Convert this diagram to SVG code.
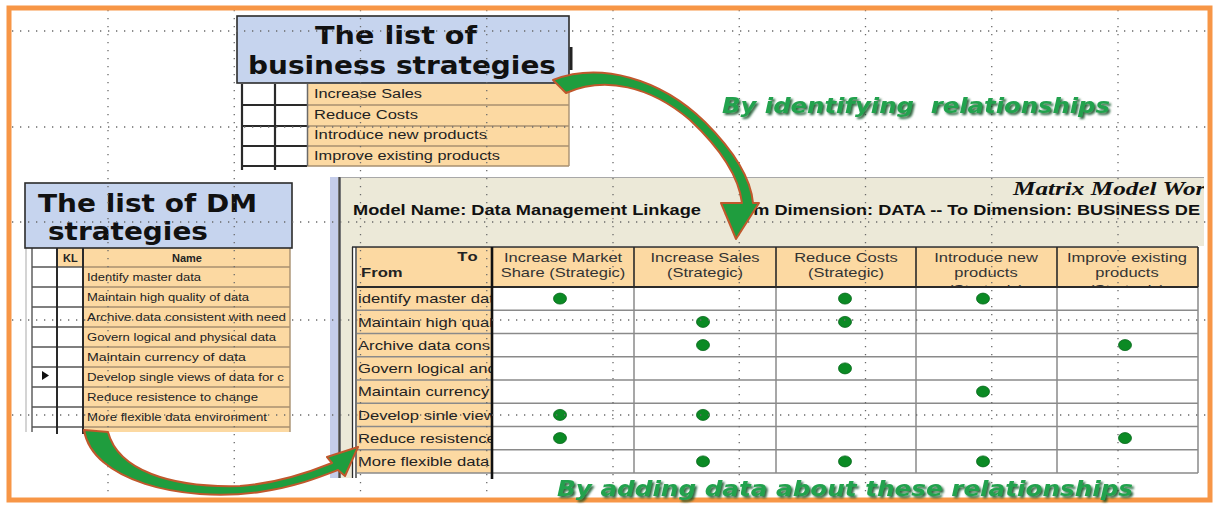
<svg xmlns="http://www.w3.org/2000/svg" width="1216" height="507" viewBox="0 0 1216 507">
<style>
.title{font-family:"DejaVu Sans",Verdana,sans-serif;font-weight:bold;font-size:24px;fill:#111}
.cell{font-family:"Liberation Sans",Arial,sans-serif;fill:#222}
.bs{font-size:12.5px}
.dm{font-size:11px}
.hd{font-size:13px;fill:#333}
.rl{font-size:13px}
.pn{font-size:14px;font-weight:bold;fill:#111}
.b{font-weight:bold}
.orange{fill:#FCD9A2}
.tbox{fill:#C6D4EE;stroke:#2b2b2b;stroke-width:1.6}
.gridln{stroke:#6a6a6a;stroke-width:1.3;stroke-dasharray:1.3 6.7;fill:none}
.dot{fill:#0b8a24;stroke:#06661a;stroke-width:0.8}
.arrow{fill:#1f9d3e;stroke:#c0582c;stroke-width:2;stroke-linejoin:round}
.green{font-family:"DejaVu Sans",Verdana,sans-serif;font-weight:bold;font-style:italic;fill:#22a24e}
.dk{stroke:#2a2a2a;fill:none}
.gy{stroke:#8a8a8a;fill:none}
.br{stroke:#a89070;fill:none}
</style>
<defs>
  <clipPath id="panelClip"><rect x="328" y="170" width="876" height="320"/></clipPath>
  <clipPath id="fromClip"><rect x="357" y="287" width="134" height="186"/></clipPath>
  <clipPath id="headClip"><rect x="492" y="247" width="706" height="39"/></clipPath>
  <filter id="txtShadow" x="-5%" y="-30%" width="110%" height="170%">
    <feGaussianBlur in="SourceAlpha" stdDeviation="0.9"/>
    <feOffset dx="1.5" dy="2" result="off"/>
    <feFlood flood-color="#0c4d20" flood-opacity="0.85"/>
    <feComposite in2="off" operator="in"/>
    <feMerge><feMergeNode/><feMergeNode in="SourceGraphic"/></feMerge>
  </filter>
</defs>

<rect x="0" y="0" width="1216" height="507" fill="#fff"/>

<!-- matrix worksheet window -->
<g id="matrix" clip-path="url(#panelClip)">
  <rect x="330" y="177" width="8" height="301" fill="#C5CDEA"/>
  <line x1="339.5" y1="177" x2="339.5" y2="478" stroke="#4a4a4a" stroke-width="2.5"/>
  <rect x="341" y="177" width="870" height="69" fill="#ECE9D8"/>
  <rect x="341" y="246" width="11" height="232" fill="#ECE9D8"/>
  <line x1="341" y1="177.5" x2="1211" y2="177.5" stroke="#a8a8a8"/>
  <text class="cell" x="1013" y="195" textLength="205" lengthAdjust="spacingAndGlyphs" style="font-family:'Liberation Serif','Times New Roman',serif;font-size:18px;font-weight:bold;font-style:italic;fill:#111">Matrix Model Work</text>
  <text class="cell pn" x="353" y="215" textLength="348" lengthAdjust="spacingAndGlyphs">Model Name: Data Management Linkage</text>
  <text class="cell pn" x="724" y="215" textLength="476" lengthAdjust="spacingAndGlyphs">From Dimension: DATA -- To Dimension: BUSINESS DE</text>

  <!-- grid body -->
  <rect x="357" y="247" width="135" height="226" class="orange"/>
  <rect x="492" y="247" width="706" height="40" class="orange"/>
  <rect x="492" y="287" width="706" height="186" fill="#fff"/>
  <g class="gy" stroke-width="1.5">
    <path d="M357 310.25H1198M357 333.5H1198M357 356.75H1198M357 380H1198M357 403.25H1198M357 426.5H1198M357 449.75H1198M357 473H1198"/>
    <path d="M634 287V473M776 287V473M916 287V473M1057 287V473M1198 287V473"/>
  </g>
  <g class="dk">
    <path d="M352 247H1198" stroke-width="1.6"/>
    <path d="M634 247V287M776 247V287M916 247V287M1057 247V287M1198 247V287" stroke-width="1.6"/>
    <path d="M357 287H1198" stroke-width="2.2"/>
    <path d="M492 247V479" stroke-width="2.6" stroke="#111"/>
    <path d="M352.5 247V478M356 247V478" stroke-width="1.3"/>
  </g>

  <!-- header captions -->
  <text class="cell b" text-anchor="end" transform="translate(479 0) scale(1.28 1)" y="261" style="font-size:13px;letter-spacing:1px">To</text>
  <text class="cell b" transform="translate(361 0) scale(1.28 1)" y="277" style="font-size:13px">From</text>
  <g class="cell hd" text-anchor="middle">
    <text transform="translate(563 0) scale(1.27 1)" y="262">Increase Market</text>
    <text transform="translate(563 0) scale(1.27 1)" y="277">Share (Strategic)</text>
    <text transform="translate(705 0) scale(1.27 1)" y="262">Increase Sales</text>
    <text transform="translate(705 0) scale(1.27 1)" y="277">(Strategic)</text>
    <text transform="translate(846 0) scale(1.27 1)" y="262">Reduce Costs</text>
    <text transform="translate(846 0) scale(1.27 1)" y="277">(Strategic)</text>
    <text transform="translate(986 0) scale(1.27 1)" y="262">Introduce new</text>
    <text transform="translate(986 0) scale(1.27 1)" y="277">products</text>
    <text transform="translate(1127 0) scale(1.27 1)" y="262">Improve existing</text>
    <text transform="translate(1127 0) scale(1.27 1)" y="277">products</text>
    <g clip-path="url(#headClip)">
      <text transform="translate(986 0) scale(1.27 1)" y="294">(Strategic)</text>
      <text transform="translate(1127 0) scale(1.27 1)" y="294">(Strategic)</text>
    </g>
  </g>

  <!-- row captions -->
  <g class="cell rl" clip-path="url(#fromClip)">
    <text transform="translate(358 0) scale(1.28 1)" y="303.5">identify master dat</text>
    <text transform="translate(358 0) scale(1.28 1)" y="326.8">Maintain high qual</text>
    <text transform="translate(358 0) scale(1.28 1)" y="350">Archive data cons</text>
    <text transform="translate(358 0) scale(1.28 1)" y="373.3">Govern logical and</text>
    <text transform="translate(358 0) scale(1.28 1)" y="396.5">Maintain currency</text>
    <text transform="translate(358 0) scale(1.28 1)" y="419.8">Develop sinle view</text>
    <text transform="translate(358 0) scale(1.28 1)" y="443">Reduce resistence</text>
    <text transform="translate(358 0) scale(1.28 1)" y="466.3">More flexible data</text>
  </g>

  <!-- relationship marks -->
  <g class="dot">
    <ellipse cx="560" cy="298.6" rx="6.5" ry="5.5"/>
    <ellipse cx="845" cy="298.6" rx="6.5" ry="5.5"/>
    <ellipse cx="983" cy="298.6" rx="6.5" ry="5.5"/>
    <ellipse cx="703" cy="321.9" rx="6.5" ry="5.5"/>
    <ellipse cx="845" cy="321.9" rx="6.5" ry="5.5"/>
    <ellipse cx="703" cy="345.1" rx="6.5" ry="5.5"/>
    <ellipse cx="1125" cy="345.1" rx="6.5" ry="5.5"/>
    <ellipse cx="845" cy="368.4" rx="6.5" ry="5.5"/>
    <ellipse cx="983" cy="391.6" rx="6.5" ry="5.5"/>
    <ellipse cx="560" cy="414.9" rx="6.5" ry="5.5"/>
    <ellipse cx="703" cy="414.9" rx="6.5" ry="5.5"/>
    <ellipse cx="560" cy="438.1" rx="6.5" ry="5.5"/>
    <ellipse cx="1125" cy="438.1" rx="6.5" ry="5.5"/>
    <ellipse cx="703" cy="461.4" rx="6.5" ry="5.5"/>
    <ellipse cx="845" cy="461.4" rx="6.5" ry="5.5"/>
    <ellipse cx="983" cy="461.4" rx="6.5" ry="5.5"/>
  </g>
</g>

<!-- business strategy list -->
<g id="business-strategies">
  <rect x="242" y="84" width="65" height="82" fill="#fff"/>
  <rect x="307" y="84" width="262" height="82" class="orange"/>
  <path class="br" stroke-width="1.4" d="M307 105H569M307 126H569M307 146H569M307 166H569M569 84V166"/>
  <path class="dk" stroke-width="2.2" d="M242 84V170M275 84V170M242 105H307M242 126H307M242 146H307M242 166H307"/>
  <line x1="307.5" y1="84" x2="307.5" y2="166" stroke="#6a6a6a" stroke-width="1.5"/>
  <g class="cell bs">
    <text x="314" y="98" textLength="108" lengthAdjust="spacingAndGlyphs">Increase Sales</text>
    <text x="314" y="118.5" textLength="104" lengthAdjust="spacingAndGlyphs">Reduce Costs</text>
    <text x="314" y="139" textLength="173" lengthAdjust="spacingAndGlyphs">Introduce new products</text>
    <text x="314" y="159.5" textLength="186" lengthAdjust="spacingAndGlyphs">Improve existing products</text>
  </g>
  <line x1="571" y1="47" x2="571" y2="70" stroke="#222" stroke-width="3"/>
  <rect class="tbox" x="237" y="16" width="332" height="67"/>
  <text class="title" x="315" y="44" textLength="162" lengthAdjust="spacingAndGlyphs">The list of</text>
  <text class="title" x="248" y="74" textLength="308" lengthAdjust="spacingAndGlyphs">business strategies</text>
</g>

<!-- data management strategy list -->
<g id="dm-strategies">
  <line x1="26" y1="248" x2="26" y2="432" stroke="#b8b8b8" stroke-width="1.2"/>
  <rect x="32" y="248" width="25" height="184" fill="#fff"/>
  <rect x="57" y="248" width="233" height="184" class="orange"/>
  <rect x="57" y="267" width="26" height="165" fill="#fff"/>
  <path class="br" stroke-width="1.4" d="M83 267H290M83 287H290M83 307H290M83 327H290M83 347H290M83 367H290M83 387H290M83 407H290M83 427H290M290 248V432"/>
  <path stroke="#555" stroke-width="1.4" fill="none" d="M32 267H83M32 287H83M32 307H83M32 327H83M32 347H83M32 367H83M32 387H83M32 407H83M32 427H83M32 248V432"/>
  <path class="dk" stroke-width="2" d="M57 248V434M83 248V434"/>
  <text class="cell dm b" x="63" y="262">KL</text>
  <text class="cell dm b" x="187" y="262" text-anchor="middle">Name</text>
  <g class="cell dm">
    <text x="87" y="281" textLength="114" lengthAdjust="spacingAndGlyphs">Identify master data</text>
    <text x="87" y="301" textLength="162" lengthAdjust="spacingAndGlyphs">Maintain high quality of data</text>
    <text x="87" y="321" textLength="199" lengthAdjust="spacingAndGlyphs">Archive data consistent with need</text>
    <text x="87" y="341" textLength="189" lengthAdjust="spacingAndGlyphs">Govern logical and physical data</text>
    <text x="87" y="361" textLength="159" lengthAdjust="spacingAndGlyphs">Maintain currency of data</text>
    <text x="87" y="381" textLength="197" lengthAdjust="spacingAndGlyphs">Develop single views of data for c</text>
    <text x="87" y="401" textLength="171" lengthAdjust="spacingAndGlyphs">Reduce resistence to change</text>
    <text x="87" y="421" textLength="180" lengthAdjust="spacingAndGlyphs">More flexible data environment</text>
  </g>
  <polygon points="42,371 42,380 49,375.5" fill="#111"/>
  <rect class="tbox" x="25" y="183" width="267" height="65"/>
  <text class="title" x="38" y="212" textLength="219" lengthAdjust="spacingAndGlyphs">The list of DM</text>
  <text class="title" x="48" y="240" textLength="160" lengthAdjust="spacingAndGlyphs">strategies</text>
</g>

<!-- dotted layout grid -->
<g id="layout-grid" class="gridln">
  <path d="M108 10V497M234.25 10V497M360.5 10V497M486.75 10V497M613 10V497M739.25 10V497M865.5 10V497M991.75 10V497M1118 10V497"/>
  <path d="M12 31H1207M12 127H1207M12 222H1207M12 320H1207M12 415H1207"/>
</g>

<!-- connectors -->
<g id="connectors">
  <path class="arrow" d="M553,80 C600,62 660,78 705,122 C735,152 751,180 753,203 L759,203 L736,239 L721,203 L742,203 C739,178 722,150 690,120 C650,86 605,76 566,93 Z"/>
  <path class="arrow" d="M84,430 C92,480 180,503 260,492 C295,487 320,477 338,470 L345,476 L358,447 L327,457 L332,463 C300,476 270,484 240,486 C170,488 118,470 108,432 Z"/>
</g>

<!-- outer frame -->
<rect x="9" y="8" width="1201" height="492" fill="none" stroke="#F79646" stroke-width="5"/>

<!-- captions -->
<g id="captions" filter="url(#txtShadow)">
  <text class="green" x="722" y="113" font-size="21" textLength="388" lengthAdjust="spacingAndGlyphs" xml:space="preserve">By identifying  relationships</text>
  <text class="green" x="557" y="496" font-size="22" textLength="576" lengthAdjust="spacingAndGlyphs">By adding data about these relationships</text>
</g>
</svg>
